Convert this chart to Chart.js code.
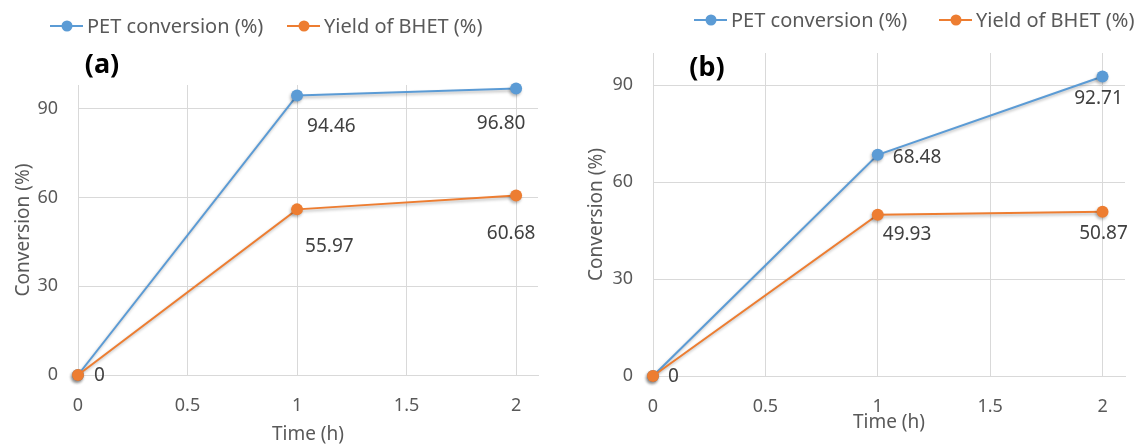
<!DOCTYPE html>
<html>
<head>
<meta charset="utf-8">
<script src="https://cdn.jsdelivr.net/npm/chart.js@4.4.0/dist/chart.umd.min.js"></script>
<style>
  html, body { margin: 0; padding: 0; background: #fff; }
  #wrap { position: relative; width: 1139px; height: 446px; }
  #wrap canvas { position: absolute; top: 0; }
</style>
</head>
<body>
<div id="wrap">
  <canvas id="chartA" width="570" height="446" style="left:0"></canvas>
  <canvas id="chartB" width="569" height="446" style="left:570px"></canvas>
</div>
<script>
// data
const timeH = [0, 1, 2];
const petA = [0, 94.46, 96.80];
const bhetA = [0, 55.97, 60.68];
const petB = [0, 68.48, 92.71];
const bhetB = [0, 49.93, 50.87];
const xTicks = [0, 0.5, 1, 1.5, 2];
const yTicks = [0, 30, 60, 90];
const seriesNames = ['PET conversion (%)', 'Yield of BHET (%)'];

const FONT = "'Noto Sans', 'DejaVu Sans', sans-serif";
const BLUE = '#5B9BD5';
const ORANGE = '#ED7D31';
const TEXT = '#595959';
const GRID = '#D9D9D9';

// marker shadow like the office chart
const shadowPlugin = {
    id: 'markerShadow',
    beforeDatasetDraw(chart) {
        const ctx = chart.ctx;
        ctx.save();
        ctx.shadowColor = 'rgba(0,0,0,0.28)';
        ctx.shadowBlur = 3;
        ctx.shadowOffsetX = -1;
        ctx.shadowOffsetY = 2;
    },
    afterDatasetDraw(chart) {
        chart.ctx.restore();
    }
};

// value labels next to the points
const valueLabels = {
    id: 'valueLabels',
    afterDatasetsDraw(chart) {
        const ctx = chart.ctx;
        ctx.save();
        ctx.font = '19px ' + FONT;
        ctx.fillStyle = '#404040';
        ctx.textBaseline = 'middle';
        chart.data.datasets.forEach((ds, i) => {
            const meta = chart.getDatasetMeta(i);
            meta.data.forEach((pt, j) => {
                const pos = ds.labelPos[j];
                if (!pos) return;
                const v = ds.data[j].y;
                ctx.textAlign = pos.align;
                ctx.fillText(v === 0 ? '0' : v.toFixed(2), pt.x + pos.dx, pt.y + pos.dy);
            });
        });
        ctx.restore();
    }
};

// legend with line + dot icon, and the panel letter
const panelDecor = {
    id: 'panelDecor',
    afterDraw(chart, args, opts) {
        const ctx = chart.ctx;
        ctx.save();
        ctx.font = '20px ' + FONT;
        ctx.textBaseline = 'middle';
        ctx.textAlign = 'left';
        chart.data.datasets.forEach((ds, i) => {
            const x = opts.legendX[i], y = opts.legendY;
            ctx.strokeStyle = ds.borderColor;
            ctx.lineWidth = 2;
            ctx.beginPath();
            ctx.moveTo(x, y);
            ctx.lineTo(x + 33, y);
            ctx.stroke();
            ctx.fillStyle = ds.backgroundColor;
            ctx.beginPath();
            ctx.arc(x + 17, y, 5.5, 0, Math.PI * 2);
            ctx.fill();
            ctx.fillStyle = TEXT;
            ctx.fillText(ds.label, x + 37, y + 1);
        });
        ctx.font = 'bold 27px ' + FONT;
        ctx.fillStyle = '#000';
        ctx.textAlign = 'center';
        ctx.fillText(opts.letter, opts.letterX, opts.letterY);
        ctx.restore();
    }
};

function pts(ys) {
    return timeH.map((t, i) => ({ x: t, y: ys[i] }));
}

function makeChart(id, p) {
    const canvas = document.getElementById(id);
    const ctx = canvas.getContext('2d');
    const W = canvas.width, H = canvas.height;

    new Chart(ctx, {
        type: 'line',
        data: {
            datasets: [
                {
                    label: seriesNames[0],
                    data: pts(p.pet),
                    borderColor: BLUE,
                    backgroundColor: BLUE,
                    borderWidth: 2,
                    pointRadius: 6,
                    pointBorderWidth: 0,
                    tension: 0,
                    clip: false,
                    order: 1,
                    labelPos: p.petLabels
                },
                {
                    label: seriesNames[1],
                    data: pts(p.bhet),
                    borderColor: ORANGE,
                    backgroundColor: ORANGE,
                    borderWidth: 2,
                    pointRadius: 6,
                    pointBorderWidth: 0,
                    tension: 0,
                    clip: false,
                    order: 0,
                    labelPos: p.bhetLabels
                }
            ]
        },
        options: {
            responsive: false,
            animation: false,
            layout: {
                padding: { top: p.area.top, right: W - p.area.right, left: 0, bottom: 0 }
            },
            plugins: {
                legend: { display: false },
                tooltip: { enabled: false },
                panelDecor: p.decor
            },
            scales: {
                x: {
                    type: 'linear',
                    min: 0,
                    max: 2.1,
                    afterBuildTicks: s => { s.ticks = xTicks.map(v => ({ value: v })); },
                    afterFit: s => { s.height = H - p.area.bottom; },
                    grid: { color: GRID, drawTicks: false },
                    border: { color: GRID },
                    ticks: {
                        padding: 20,
                        color: TEXT,
                        font: { family: FONT, size: 18 },
                        callback: v => String(v)
                    },
                    title: {
                        display: true,
                        text: 'Time (h)',
                        color: TEXT,
                        font: { family: FONT, size: 19 },
                        padding: { top: 0, bottom: p.xTitlePad }
                    }
                },
                y: {
                    min: 0,
                    max: p.yMax,
                    afterBuildTicks: s => { s.ticks = yTicks.map(v => ({ value: v })); },
                    afterFit: s => { s.width = p.area.left; },
                    grid: { color: GRID, drawTicks: false },
                    border: { color: GRID },
                    ticks: {
                        padding: 20,
                        color: TEXT,
                        font: { family: FONT, size: 18 },
                        callback: v => String(v)
                    },
                    title: {
                        display: true,
                        text: 'Conversion (%)',
                        color: TEXT,
                        font: { family: FONT, size: 19 },
                        padding: { top: p.yTitlePad, bottom: 0 }
                    }
                }
            }
        },
        plugins: [shadowPlugin, valueLabels, panelDecor]
    });
}

makeChart('chartA', {
    pet: petA,
    bhet: bhetA,
    yMax: 98,
    area: { left: 78, right: 538, top: 85, bottom: 375 },
    xTitlePad: 0,
    yTitlePad: 12,
    petLabels: [null, { dx: 10, dy: 31, align: 'left' }, { dx: -15, dy: 35, align: 'center' }],
    bhetLabels: [{ dx: 16, dy: 1, align: 'left' }, { dx: 8, dy: 37, align: 'left' }, { dx: -5, dy: 38, align: 'center' }],
    decor: { legendX: [50, 287], legendY: 26, letter: '(a)', letterX: 102, letterY: 65 }
});

makeChart('chartB', {
    pet: petB,
    bhet: bhetB,
    yMax: 100,
    area: { left: 83, right: 555, top: 53, bottom: 376 },
    xTitlePad: 12,
    yTitlePad: 15,
    petLabels: [null, { dx: 15, dy: 3, align: 'left' }, { dx: -4, dy: 22, align: 'center' }],
    bhetLabels: [{ dx: 15, dy: 1, align: 'left' }, { dx: 5, dy: 20, align: 'left' }, { dx: 1, dy: 22, align: 'center' }],
    decor: { legendX: [124, 369], legendY: 20, letter: '(b)', letterX: 137, letterY: 68 }
});
</script>
</body>
</html>
